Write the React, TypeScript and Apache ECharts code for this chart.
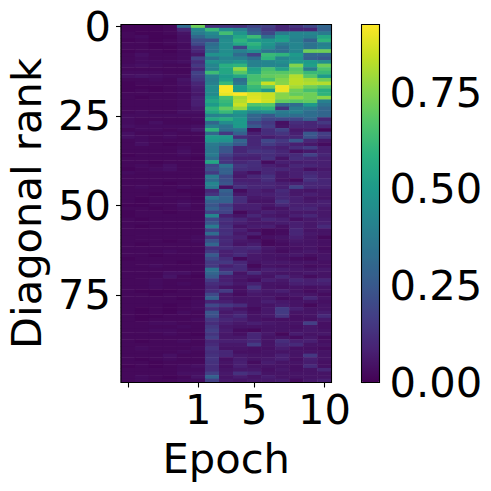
import React, { useEffect, useRef } from "react";
import * as echarts from "echarts";

const epochLabels = ["", "", "", "", "", "1", "2", "3", "4", "5", "6", "7", "8", "9", "10"];
const epochTickIndexes = [0, 5, 9, 14];
const rankTickStep = 25;
const colorMax = 0.925;
const colorTicks = [0, 0.25, 0.5, 0.75];
const viridis = ["#440154", "#482173", "#433e85", "#38598c", "#2d708e", "#25858e", "#1e9b8a", "#2ab07f", "#51c56a", "#85d54a", "#c2df23", "#fde725"];

// Columns before the first epoch label plus that epoch's neighbour (indexes 0 to 5)
const earlyRows = [
  [.01,.01,.01,.02,.32,.72],[.01,.01,.01,.02,.10,.42],[.02,.01,.01,.02,.05,.38],[.02,.03,.01,.01,.04,.30],[.01,.02,.01,.02,.04,.22],
  [.02,.02,.01,.02,.03,.20],[.02,.02,.01,.01,.03,.12],[.01,.02,.02,.01,.03,.10],[.02,.04,.02,.02,.03,.06],[.02,.03,.02,.02,.03,.18],
  [.02,.03,.03,.03,.04,.12],[.03,.04,.03,.02,.02,.15],[.02,.02,.02,.02,.02,.10],[.03,.03,.03,.02,.02,.18],[.04,.05,.04,.03,.03,.16],
  [.02,.02,.03,.02,.05,.14],[.01,.02,.02,.02,.04,.10],[.01,.01,.01,.02,.03,.08],[.01,.02,.01,.02,.03,.07],[.02,.02,.02,.02,.03,.06],
  [.02,.01,.02,.02,.03,.08],[.02,.02,.02,.02,.03,.08],[.02,.02,.02,.02,.03,.08],[.02,.02,.02,.02,.03,.06],[.02,.03,.02,.02,.04,.04],
  [.03,.03,.03,.03,.03,.03],[.03,.02,.02,.02,.02,.03],[.03,.02,.04,.02,.02,.02],[.04,.03,.03,.03,.03,.04],[.02,.03,.03,.02,.03,.06],
  [.04,.02,.02,.03,.02,.02],[.04,.03,.02,.03,.02,.02],[.02,.03,.02,.02,.02,.02],[.02,.04,.02,.01,.02,.02],[.02,.02,.02,.02,.03,.02],
  [.02,.02,.02,.02,.04,.02],[.01,.02,.02,.02,.03,.02],[.02,.02,.02,.02,.02,.01],[.02,.02,.01,.02,.02,.02],[.02,.03,.02,.04,.02,.02],
  [.01,.02,.03,.04,.02,.02],[.03,.02,.02,.02,.02,.02],[.02,.02,.02,.02,.02,.02],[.02,.02,.02,.02,.02,.02],[.02,.02,.02,.01,.02,.02],
  [.02,.03,.02,.02,.03,.02],[.02,.02,.02,.02,.01,.01],[.02,.02,.01,.02,.02,.01],[.02,.01,.02,.02,.02,.01],[.02,.01,.02,.02,.03,.02],
  [.01,.01,.02,.02,.04,.02],[.02,.02,.01,.02,.03,.02],[.01,.02,.02,.01,.02,.02],[.01,.02,.02,.02,.02,.02],[.02,.01,.02,.02,.02,.02],
  [.02,.02,.02,.02,.02,.02],[.02,.01,.02,.02,.02,.02],[.02,.02,.02,.02,.02,.02],[.02,.02,.02,.02,.02,.02],[.02,.02,.02,.02,.02,.03],
  [.02,.02,.02,.01,.02,.03],[.02,.01,.02,.02,.02,.02],[.02,.02,.02,.02,.02,.02],[.02,.02,.02,.03,.02,.02],[.02,.02,.01,.02,.02,.02],
  [.01,.02,.02,.02,.02,.02],[.02,.02,.02,.02,.01,.02],[.02,.02,.03,.02,.02,.02],[.02,.02,.02,.02,.02,.02],[.02,.02,.02,.04,.04,.02],
  [.02,.02,.02,.05,.02,.01],[.02,.02,.03,.02,.02,.02],[.02,.02,.03,.02,.03,.02],[.02,.02,.03,.02,.02,.02],[.02,.01,.01,.01,.02,.02],
  [.02,.02,.01,.02,.02,.02],[.02,.02,.02,.02,.01,.02],[.02,.02,.02,.02,.02,.03],[.02,.02,.02,.01,.02,.03],[.02,.01,.02,.01,.02,.03],
  [.02,.01,.02,.01,.03,.02],[.02,.01,.01,.02,.02,.02],[.02,.01,.02,.02,.02,.03],[.02,.02,.03,.03,.02,.02],[.02,.02,.02,.02,.03,.02],
  [.02,.02,.03,.03,.02,.02],[.02,.02,.02,.03,.02,.01],[.02,.02,.02,.02,.02,.02],[.02,.01,.02,.02,.03,.02],[.02,.02,.02,.02,.02,.02],
  [.02,.03,.02,.02,.02,.03],[.02,.02,.02,.02,.03,.02],[.02,.02,.02,.04,.02,.02],[.02,.01,.02,.03,.02,.02],[.02,.02,.01,.02,.02,.02],
  [.01,.02,.01,.02,.03,.04],[.02,.02,.02,.02,.03,.03],[.02,.02,.02,.02,.04,.04],[.02,.03,.02,.01,.02,.05],[.02,.03,.02,.02,.03,.03],
];

// Columns from the bright band to the last epoch (indexes 6 to 14)
const lateRows = [
  [.12,.13,.12,.18,.17,.10,.14,.20,.30],[.62,.45,.40,.25,.15,.10,.10,.10,.28],[.44,.64,.48,.30,.20,.38,.42,.42,.38],[.40,.43,.55,.63,.32,.50,.42,.40,.55],[.22,.45,.60,.50,.48,.52,.40,.28,.60],
  [.32,.45,.55,.60,.48,.38,.42,.35,.40],[.35,.45,.20,.55,.45,.33,.42,.35,.42],[.35,.45,.40,.45,.35,.33,.42,.72,.72],[.47,.47,.32,.18,.62,.60,.50,.30,.30],[.35,.42,.40,.33,.60,.42,.47,.28,.25],
  [.47,.45,.48,.40,.42,.45,.50,.50,.45],[.42,.58,.60,.40,.42,.42,.75,.52,.72],[.40,.55,.78,.52,.65,.53,.68,.38,.66],[.63,.55,.68,.55,.68,.68,.70,.62,.62],[.40,.50,.55,.65,.70,.72,.82,.68,.50],
  [.38,.52,.32,.65,.65,.75,.83,.80,.72],[.40,.62,.36,.68,.85,.76,.83,.82,.82],[.45,.92,.50,.62,.70,.90,.80,.72,.68],[.45,.92,.50,.60,.50,.90,.72,.65,.58],[.44,.90,.93,.87,.85,.76,.70,.72,.60],
  [.50,.65,.80,.88,.85,.76,.77,.72,.76],[.55,.62,.82,.90,.86,.70,.68,.70,.40],[.50,.60,.85,.67,.68,.30,.32,.50,.35],[.60,.70,.78,.58,.60,.13,.38,.38,.30],[.55,.62,.50,.42,.45,.38,.40,.33,.30],
  [.40,.42,.45,.30,.25,.35,.33,.33,.30],[.55,.58,.50,.28,.20,.20,.20,.28,.10],[.30,.45,.50,.20,.15,.04,.12,.10,.15],[.40,.35,.50,.25,.17,.05,.10,.10,.10],[.60,.33,.35,.03,.12,.18,.06,.07,.02],
  [.30,.15,.28,.08,.12,.14,.08,.25,.17],[.50,.50,.12,.10,.07,.10,.10,.23,.15],[.48,.47,.30,.10,.20,.15,.25,.10,.06],[.38,.34,.25,.10,.16,.12,.08,.06,.03],[.36,.24,.10,.11,.10,.08,.12,.16,.08],
  [.36,.24,.10,.14,.13,.10,.04,.06,.08],[.38,.18,.11,.10,.12,.10,.11,.18,.10],[.32,.14,.08,.08,.13,.05,.12,.10,.08],[.55,.14,.10,.12,.03,.08,.07,.08,.08],[.20,.34,.14,.12,.08,.06,.10,.10,.08],
  [.22,.28,.12,.11,.10,.10,.08,.04,.06],[.16,.28,.07,.04,.10,.06,.08,.10,.08],[.38,.20,.06,.10,.13,.06,.08,.12,.08],[.32,.22,.08,.08,.12,.05,.03,.13,.10],[.42,.24,.10,.09,.10,.08,.08,.10,.10],
  [.38,.04,.13,.10,.10,.08,.18,.10,.09],[.10,.28,.03,.08,.06,.11,.06,.05,.06],[.14,.25,.06,.08,.08,.10,.06,.08,.06],[.36,.28,.12,.06,.06,.10,.08,.05,.05],[.28,.28,.12,.05,.05,.14,.08,.06,.08],
  [.24,.16,.08,.08,.06,.10,.08,.08,.08],[.28,.20,.08,.08,.04,.05,.09,.10,.06],[.18,.18,.02,.06,.08,.06,.06,.06,.06],[.42,.08,.05,.10,.06,.05,.08,.10,.06],[.20,.13,.10,.06,.10,.08,.04,.06,.07],
  [.24,.11,.08,.06,.06,.07,.08,.06,.08],[.38,.13,.05,.07,.08,.04,.08,.06,.11],[.18,.12,.08,.04,.02,.03,.10,.05,.05],[.32,.13,.06,.08,.02,.03,.10,.06,.05],[.13,.10,.08,.02,.04,.05,.08,.05,.02],
  [.22,.11,.06,.05,.02,.04,.06,.05,.04],[.30,.10,.05,.07,.02,.03,.05,.05,.04],[.12,.12,.10,.11,.06,.04,.04,.05,.03],[.15,.08,.10,.08,.05,.03,.05,.06,.04],[.26,.08,.11,.06,.05,.05,.06,.04,.05],
  [.20,.12,.02,.06,.05,.04,.03,.02,.05],[.15,.15,.10,.05,.06,.06,.05,.05,.04],[.15,.08,.11,.02,.05,.04,.05,.03,.04],[.34,.12,.11,.05,.08,.07,.06,.05,.06],[.30,.20,.05,.12,.06,.05,.05,.06,.05],
  [.26,.08,.06,.05,.05,.10,.06,.03,.05],[.16,.08,.05,.03,.08,.06,.10,.08,.10],[.12,.10,.06,.08,.05,.05,.08,.08,.08],[.10,.05,.04,.14,.05,.04,.05,.04,.05],[.12,.16,.04,.08,.06,.08,.05,.03,.05],
  [.20,.06,.03,.06,.05,.05,.06,.05,.03],[.28,.06,.05,.05,.06,.03,.04,.10,.05],[.09,.08,.05,.05,.08,.06,.05,.05,.04],[.20,.15,.12,.05,.05,.07,.05,.02,.05],[.12,.08,.05,.03,.06,.16,.08,.05,.05],
  [.24,.06,.08,.04,.06,.16,.05,.05,.07],[.22,.08,.11,.05,.06,.14,.04,.05,.11],[.15,.10,.08,.05,.04,.04,.04,.04,.06],[.12,.08,.06,.08,.06,.05,.05,.17,.04],[.15,.06,.05,.05,.05,.05,.04,.06,.04],
  [.17,.07,.03,.02,.05,.05,.05,.06,.05],[.14,.06,.04,.10,.06,.02,.07,.05,.06],[.17,.06,.06,.10,.05,.05,.03,.06,.03],[.10,.08,.08,.10,.05,.12,.08,.08,.04],[.11,.06,.06,.16,.05,.10,.11,.05,.05],
  [.14,.05,.05,.04,.04,.07,.04,.04,.03],[.12,.10,.04,.04,.05,.05,.05,.05,.05],[.13,.10,.06,.05,.05,.08,.05,.15,.05],[.14,.04,.07,.05,.06,.08,.04,.08,.05],[.13,.05,.08,.03,.07,.05,.05,.07,.04],
  [.12,.04,.08,.05,.05,.05,.04,.11,.04],[.12,.05,.06,.06,.04,.06,.04,.05,.10],[.17,.06,.13,.10,.05,.05,.05,.05,.05],[.28,.05,.07,.05,.07,.05,.05,.05,.05],[.17,.06,.05,.06,.06,.07,.03,.06,.08],
];

const FONT = "DejaVu Sans";
const FS = 41.67;

export default function App() {
  const ref = useRef<HTMLDivElement>(null);
  useEffect(() => {
    const chart = echarts.init(ref.current!, undefined, { renderer: "svg" });
    const ranks = earlyRows.map((_, i) => String(i));
    const cells: number[][] = [];
    earlyRows.forEach((row, r) => {
      [...row, ...lateRows[r]].forEach((v, c) => cells.push([c, r, v]));
    });
    const frame = { show: true, z: 10, backgroundColor: "transparent", borderColor: "#000", borderWidth: 1.1 };
    const tick = { show: true, length: 5, lineStyle: { color: "#000", width: 1.1 } };
    const label = { fontFamily: FONT, fontSize: FS, color: "#000" };
    chart.setOption({
      animation: false,
      backgroundColor: "#fff",
      textStyle: { fontFamily: FONT },
      grid: [
        { left: 121, top: 24.5, width: 210.5, height: 358, ...frame },
        { left: 361.5, top: 24.5, width: 18, height: 358, ...frame },
      ],
      xAxis: [
        {
          type: "category", gridIndex: 0, data: epochLabels, position: "bottom",
          name: "Epoch", nameLocation: "middle", nameGap: 55,
          nameTextStyle: { fontFamily: FONT, fontSize: FS, color: "#000" },
          axisLine: { show: false }, splitLine: { show: false },
          axisTick: { ...tick, alignWithLabel: true, interval: (i: number) => epochTickIndexes.includes(i) },
          axisLabel: { ...label, margin: 6, hideOverlap: false, interval: (i: number) => epochTickIndexes.includes(i) },
        },
        { type: "value", gridIndex: 1, min: 0, max: 1, show: false },
      ],
      yAxis: [
        {
          type: "category", gridIndex: 0, data: ranks, inverse: true,
          name: "Diagonal rank", nameLocation: "middle", nameGap: 74, nameRotate: 90,
          nameTextStyle: { fontFamily: FONT, fontSize: FS, color: "#000" },
          axisLine: { show: false }, splitLine: { show: false },
          axisTick: { ...tick, alignWithLabel: true, interval: (i: number) => i % rankTickStep === 0 },
          axisLabel: { ...label, margin: 10, padding: [3, 0, 0, 0], hideOverlap: false, interval: (i: number) => i % rankTickStep === 0 },
        },
        {
          type: "value", gridIndex: 1, position: "right", min: 0, max: colorMax, interval: colorTicks[1],
          axisLine: { show: false }, splitLine: { show: false },
          axisTick: { ...tick },
          axisLabel: { ...label, margin: 10, padding: [3, 0, 0, 0], showMaxLabel: false, formatter: (v: number) => v.toFixed(2) },
        },
      ],
      visualMap: {
        type: "continuous", seriesIndex: 0, min: 0, max: colorMax, calculable: false, realtime: false,
        left: 361.5, top: 24.5, itemWidth: 18, itemHeight: 358, padding: 0, hoverLink: false,
        inRange: { color: viridis },
      },
      series: [
        { type: "heatmap", xAxisIndex: 0, yAxisIndex: 0, data: cells, progressive: 0, itemStyle: { borderWidth: 0 } },
      ],
    });
    return () => chart.dispose();
  }, []);
  return <div ref={ref} style={{ position: "absolute", left: 0, top: 0, width: 491, height: 491 }} />;
}
